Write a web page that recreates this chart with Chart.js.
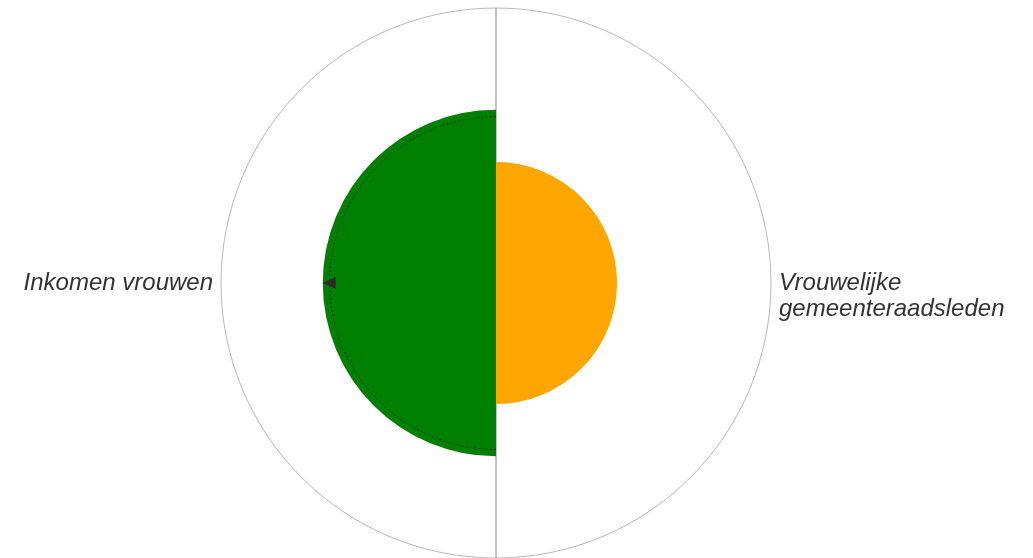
<!DOCTYPE html>
<html>
<head>
  <meta charset="utf-8">
  <script src="https://cdn.jsdelivr.net/npm/chart.js@4/dist/chart.umd.min.js"></script>
  <style>
    html, body { margin: 0; padding: 0; background: #fff; }
    #outer { width: 1033px; height: 558px; position: relative; overflow: hidden; }
    #wrap { width: 1033px; height: 558px; position: absolute; left: -20px; top: 0; }
  </style>
</head>
<body>
  <div id="outer"><div id="wrap"><canvas id="chart"></canvas></div></div>
  <script>
    // data
    const labels = [["", "Vrouwelijke", "gemeenteraadsleden"], "Inkomen vrouwen"];
    const values = [44, 63];
    const colors = ["#ffa500", "#008000"];
    // marker (triangle) and dotted reference arc on the green segment
    const markerIndex = 1;
    const markerValue = 63;
    const refValue = 60.5;

    // extra drawing for the marker and the dotted arc
    const markerPlugin = {
      id: "marker",
      afterDatasetsDraw(chart) {
        const scale = chart.scales.r;
        const ctx = chart.ctx;
        const arc = chart.getDatasetMeta(0).data[markerIndex];
        ctx.save();
        // dotted arc
        const rr = scale.getDistanceFromCenterForValue(refValue);
        ctx.beginPath();
        ctx.setLineDash([2, 2]);
        ctx.strokeStyle = "rgba(30,30,30,0.7)";
        ctx.lineWidth = 1;
        ctx.arc(scale.xCenter, scale.yCenter, rr, arc.startAngle, arc.endAngle);
        ctx.stroke();
        ctx.setLineDash([]);
        // triangle at the middle of the segment
        const mid = (arc.startAngle + arc.endAngle) / 2;
        const d = scale.getDistanceFromCenterForValue(markerValue);
        ctx.translate(scale.xCenter + Math.cos(mid) * d, scale.yCenter + Math.sin(mid) * d);
        ctx.rotate(mid);
        ctx.beginPath();
        ctx.moveTo(0, 0);
        ctx.lineTo(-13, -6);
        ctx.lineTo(-13, 6);
        ctx.closePath();
        ctx.fillStyle = "#2b2b2b";
        ctx.fill();
        ctx.restore();
      }
    };

    new Chart(document.getElementById("chart"), {
      type: "polarArea",
      data: {
        labels: labels,
        datasets: [{
          data: values,
          backgroundColor: colors,
          borderWidth: 0
        }]
      },
      options: {
        responsive: true,
        maintainAspectRatio: false,
        animation: false,
        layout: { padding: { top: 8, bottom: 0 } },
        plugins: {
          legend: { display: false },
          tooltip: { enabled: false }
        },
        scales: {
          r: {
            min: 0,
            max: 100,
            ticks: { display: false, stepSize: 100 },
            grid: { color: "#9a9a9a", lineWidth: 0.7 },
            angleLines: { display: true, color: "#8a8a8a", lineWidth: 1 },
            pointLabels: {
              display: true,
              centerPointLabels: true,
              color: "#333",
              padding: 8,
              font: { family: "Liberation Sans, Arial, sans-serif", size: 24, style: "italic", lineHeight: 1.08 }
            }
          }
        }
      },
      plugins: [markerPlugin]
    });
  </script>
</body>
</html>
